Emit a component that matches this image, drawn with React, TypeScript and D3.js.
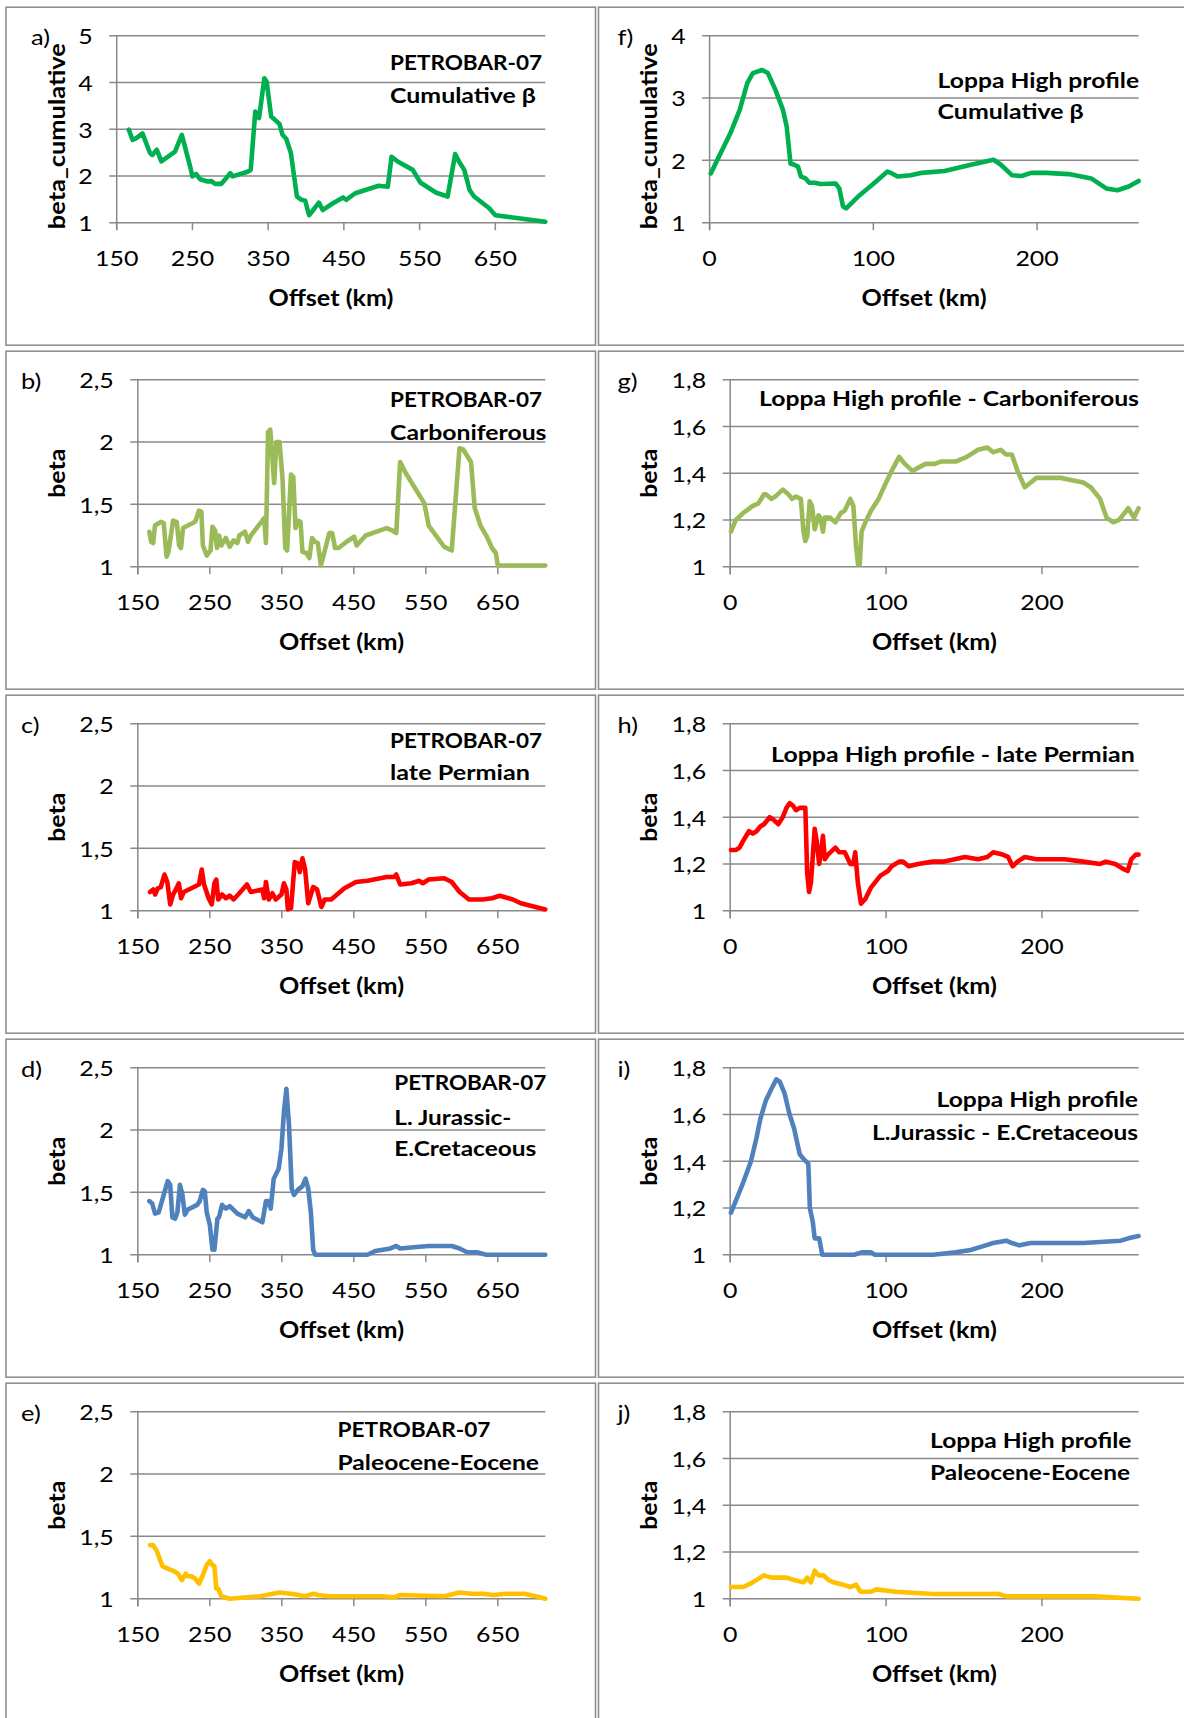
import React from "react";
import * as d3 from "d3";

type Pt = [number, number];

// ---------- tick values ----------
const petrobarXTicks = [150, 250, 350, 450, 550, 650];
const loppaXTicks = [0, 100, 200];
const petrobarXDomain: [number, number] = [150, 716];
const loppaXDomain: [number, number] = [0, 262];
const cumPetrobarYTicks = [1, 2, 3, 4, 5];
const cumLoppaYTicks = [1, 2, 3, 4];
const petrobarYTicks = [1, 1.5, 2, 2.5];
const loppaYTicks = [1, 1.2, 1.4, 1.6, 1.8];

// ---------- series (offset km, beta) ----------
const petrobarCumulative: Pt[] = [
  [166, 2.99], [171, 2.77], [176, 2.81], [184, 2.91], [194, 2.49], [197, 2.45], [203, 2.56], [209, 2.31],
  [227, 2.52], [236, 2.88], [247, 2.2], [250, 1.99], [255, 2.04], [260, 1.93], [270, 1.88], [275, 1.89],
  [280, 1.83], [288, 1.83], [300, 2.06], [303, 1.99], [323, 2.09], [327, 2.13], [333, 3.38], [338, 3.24],
  [345, 4.09], [348, 4.02], [354, 3.27], [359, 3.2], [365, 3.11], [369, 2.88], [374, 2.79], [380, 2.49],
  [388, 1.56], [394, 1.49], [399, 1.47], [404, 1.16], [408, 1.24], [417, 1.43], [422, 1.27], [435, 1.41],
  [449, 1.54], [453, 1.49], [465, 1.63], [496, 1.79], [508, 1.77], [513, 2.41], [521, 2.31], [541, 2.13],
  [551, 1.86], [572, 1.64], [587, 1.56], [597, 2.47], [602, 2.31], [609, 2.13], [616, 1.7], [622, 1.56],
  [642, 1.31], [650, 1.16], [673, 1.11], [716, 1.02],
];

const petrobarCarboniferous: Pt[] = [
  [166, 1.28], [168.6, 1.2], [171.3, 1.19], [173.9, 1.33], [182, 1.36], [186, 1.35], [190, 1.08], [192.6, 1.12],
  [199, 1.37], [204, 1.36], [207.4, 1.17], [210, 1.15], [212.8, 1.31], [229.8, 1.36], [235, 1.45], [238.3, 1.44],
  [240.4, 1.17], [245.7, 1.09], [248.4, 1.11], [251, 1.13], [253.7, 1.32], [257.4, 1.29], [260, 1.15], [262.8, 1.25],
  [266, 1.17], [272.3, 1.23], [277.7, 1.16], [283, 1.21], [288.3, 1.19], [291, 1.25], [299, 1.28], [303, 1.2],
  [307, 1.25], [323, 1.37], [325.5, 1.39], [328, 1.19], [330.9, 2.08], [334, 2.1], [339.4, 1.67], [342.6, 2.0],
  [346.8, 2.0], [351, 1.71], [354.8, 1.15], [357.4, 1.13], [362.8, 1.74], [366, 1.72], [369, 1.31], [372.3, 1.37],
  [376, 1.36], [378.7, 1.12], [384, 1.11], [388.3, 1.07], [392, 1.23], [396, 1.2], [400, 1.19], [404.3, 1.01],
  [408, 1.09], [416, 1.27], [420, 1.27], [424, 1.15], [429, 1.15], [440, 1.2], [450.5, 1.24], [454, 1.17],
  [466.5, 1.25], [495.7, 1.31], [503.7, 1.29], [509, 1.27], [514.4, 1.84], [522.3, 1.75], [543.6, 1.55], [547.9, 1.51],
  [554, 1.33], [575.5, 1.16], [586, 1.13], [596.8, 1.95], [602, 1.94], [612.8, 1.84], [618, 1.47], [626, 1.33],
  [634, 1.25], [642, 1.15], [647.3, 1.11], [650, 1.01], [716, 1.01],
];

const petrobarLatePermian: Pt[] = [
  [167, 1.15], [171.3, 1.17], [174, 1.13], [177.7, 1.18], [182, 1.19], [187, 1.29], [191, 1.23], [195, 1.05],
  [199, 1.13], [203, 1.17], [207, 1.22], [210, 1.1], [213.8, 1.15], [235, 1.21], [238.8, 1.33], [242, 1.21],
  [248.4, 1.1], [252.7, 1.05], [256.4, 1.22], [259, 1.25], [261.7, 1.09], [267, 1.13], [272.3, 1.1], [277.7, 1.12],
  [283, 1.09], [291, 1.14], [301.6, 1.21], [307, 1.15], [323, 1.17], [325.5, 1.1], [328, 1.23], [331.9, 1.09],
  [337, 1.14], [341.5, 1.09], [349.5, 1.13], [353, 1.22], [356.4, 1.17], [358.5, 1.01], [362.8, 1.02], [368, 1.39],
  [372.3, 1.38], [375, 1.31], [378.7, 1.42], [382.4, 1.33], [386.7, 1.06], [393.6, 1.19], [399, 1.17], [405, 1.03],
  [409.6, 1.09], [418.6, 1.09], [437, 1.18], [453, 1.23], [469, 1.24], [495.7, 1.27], [506, 1.27], [509, 1.29],
  [514.4, 1.21], [530, 1.22], [541, 1.24], [546, 1.22], [554, 1.25], [575.5, 1.26], [586, 1.23], [597, 1.15],
  [610, 1.09], [628.7, 1.09], [642, 1.1], [652.7, 1.12], [671, 1.09], [682, 1.06], [716, 1.01],
];

const petrobarJurCret: Pt[] = [
  [166, 1.43], [170, 1.41], [174, 1.33], [179, 1.34], [186, 1.48], [191.5, 1.59], [195, 1.56], [198, 1.3],
  [202, 1.29], [205, 1.34], [208.5, 1.56], [211.7, 1.49], [215.4, 1.32], [219, 1.36], [232.4, 1.4], [236, 1.43],
  [240.4, 1.52], [243, 1.51], [245.7, 1.34], [250, 1.24], [253.7, 1.04], [256.4, 1.04], [260.6, 1.29], [262.8, 1.3],
  [267, 1.4], [272.3, 1.37], [277.7, 1.39], [288.3, 1.33], [299, 1.3], [304, 1.35], [309.6, 1.3], [323, 1.26],
  [328, 1.43], [330.9, 1.43], [334.6, 1.37], [338.8, 1.61], [345.7, 1.69], [349.5, 1.85], [353, 2.15], [356.4, 2.33],
  [360, 2.04], [363.8, 1.53], [367, 1.48], [372.3, 1.52], [378.7, 1.55], [383, 1.61], [386.7, 1.53], [390.4, 1.34],
  [393.6, 1.04], [396.3, 1.0], [469, 1.0], [479.8, 1.03], [501, 1.05], [509, 1.07], [514.4, 1.05], [533, 1.06],
  [554, 1.07], [586, 1.07], [597, 1.05], [607.4, 1.02], [620.7, 1.02], [634, 1.0], [716, 1.0],
];

const petrobarPaleoEo: Pt[] = [
  [167, 1.43], [171.3, 1.43], [176.6, 1.38], [181, 1.31], [184.6, 1.26], [192.6, 1.24], [200.5, 1.22], [205.9, 1.2],
  [211.2, 1.15], [216.5, 1.2], [219, 1.18], [224.5, 1.18], [229.8, 1.16], [235, 1.12], [240.4, 1.19], [245.7, 1.27],
  [250, 1.3], [253.7, 1.27], [256.4, 1.26], [259, 1.08], [261.7, 1.08], [266, 1.02], [277.7, 1.0], [320, 1.02],
  [346.8, 1.05], [362.8, 1.04], [373.4, 1.03], [381.4, 1.02], [394.7, 1.04], [400, 1.03], [416, 1.02], [490.4, 1.02],
  [506.4, 1.01], [514.4, 1.03], [575.5, 1.02], [596.8, 1.05], [612.8, 1.04], [628.7, 1.04], [644.7, 1.03],
  [660.6, 1.04], [687, 1.04], [703, 1.02], [716, 1.0],
];

const loppaCumulative: Pt[] = [
  [0.7, 1.79], [5.7, 2.06], [12.6, 2.43], [18.4, 2.81], [23, 3.24], [26.4, 3.4], [32.1, 3.45], [35.6, 3.4],
  [40.2, 3.13], [44.8, 2.81], [47.1, 2.54], [49.4, 1.95], [51.7, 1.93], [54, 1.9], [55.8, 1.74], [58.6, 1.71],
  [60.9, 1.64], [64.3, 1.64], [67.7, 1.62], [76.9, 1.63], [79.2, 1.55], [81.5, 1.26], [83.4, 1.23], [90.7, 1.42],
  [99.9, 1.62], [108.6, 1.82], [111.4, 1.79], [114.8, 1.74], [122.8, 1.76], [129.7, 1.8], [143.5, 1.83],
  [159.6, 1.93], [173.4, 2.01], [177.9, 1.93], [184.8, 1.76], [190.6, 1.75], [196.3, 1.8], [205.5, 1.8],
  [219.3, 1.78], [233.1, 1.71], [242.2, 1.55], [249.1, 1.52], [256, 1.58], [262, 1.67],
];

const loppaCarboniferous: Pt[] = [
  [0.5, 1.15], [3.6, 1.2], [8.4, 1.23], [14.5, 1.26], [18, 1.27], [21.7, 1.31], [22.9, 1.31], [26.5, 1.29],
  [28.9, 1.3], [33.7, 1.33], [37.3, 1.31], [39.8, 1.29], [42.2, 1.3], [45.3, 1.29], [47, 1.15], [48.2, 1.11],
  [49.4, 1.13], [51, 1.28], [52.5, 1.26], [54.2, 1.16], [56.6, 1.22], [57.8, 1.21], [59.5, 1.15], [60.7, 1.21],
  [63.9, 1.21], [67.5, 1.19], [71, 1.23], [73.5, 1.24], [77, 1.29], [79, 1.26], [80.7, 1.09], [82, 1.01],
  [83.1, 1.01], [84.3, 1.15], [86.7, 1.19], [90.4, 1.24], [95.2, 1.29], [100, 1.36], [103.6, 1.41], [108.4, 1.47],
  [112, 1.44], [116.9, 1.41], [125.3, 1.44], [131.3, 1.44], [135, 1.45], [144.6, 1.45], [151.8, 1.47], [159, 1.5],
  [165, 1.51], [168.7, 1.49], [173.5, 1.5], [177, 1.48], [180.7, 1.48], [184.3, 1.41], [189, 1.34], [192.8, 1.36],
  [196.4, 1.38], [202.4, 1.38], [208.4, 1.38], [212, 1.38], [219.3, 1.37], [226.5, 1.36], [231.3, 1.34],
  [237.3, 1.29], [241.4, 1.21], [245.8, 1.19], [249.4, 1.2], [255.4, 1.25], [259, 1.21], [262, 1.25],
];

const loppaLatePermian: Pt[] = [
  [0.5, 1.26], [3.6, 1.26], [6, 1.27], [8.4, 1.3], [12, 1.34], [14.5, 1.33], [16.9, 1.34], [19.3, 1.36],
  [21.7, 1.37], [25.3, 1.4], [27.7, 1.39], [30.8, 1.37], [33.7, 1.4], [36.1, 1.44], [38.1, 1.46], [40.2, 1.45],
  [42.2, 1.43], [44.6, 1.44], [47, 1.44], [48.2, 1.44], [49.4, 1.16], [50.6, 1.08], [51.8, 1.12], [54.2, 1.35],
  [55.4, 1.3], [57.1, 1.2], [58.6, 1.27], [59.5, 1.32], [60.7, 1.22], [62.7, 1.24], [67.5, 1.27], [69.9, 1.25],
  [73.5, 1.25], [77.1, 1.2], [79, 1.2], [80.2, 1.25], [81.9, 1.12], [83.9, 1.03], [86.7, 1.05], [90.4, 1.1],
  [96.4, 1.15], [101.2, 1.17], [103.6, 1.19], [108.4, 1.21], [110.8, 1.21], [114.5, 1.19], [120.5, 1.2],
  [130, 1.21], [137.3, 1.21], [150.6, 1.23], [159, 1.22], [165, 1.23], [168.7, 1.25], [174.7, 1.24],
  [178.3, 1.23], [181.2, 1.19], [184.3, 1.21], [189, 1.23], [196.4, 1.22], [204.8, 1.22], [214.5, 1.22],
  [226.5, 1.21], [237.3, 1.2], [241, 1.21], [247, 1.2], [251.8, 1.18], [255, 1.17], [257.3, 1.22], [260.2, 1.24],
  [262, 1.24],
];

const loppaJurCret: Pt[] = [
  [0.5, 1.18], [3.6, 1.23], [8.4, 1.31], [13.3, 1.4], [16.9, 1.5], [19.3, 1.58], [22.9, 1.66], [26.5, 1.71],
  [29.6, 1.75], [31.8, 1.74], [34.9, 1.69], [38.1, 1.6], [41, 1.54], [44.6, 1.43], [47, 1.41], [50.1, 1.39],
  [51.1, 1.2], [53, 1.14], [54.2, 1.07], [57.1, 1.07], [59, 1.0], [79.5, 1.0], [84.3, 1.01], [90.4, 1.01],
  [92.8, 1.0], [130, 1.0], [144.6, 1.01], [154.2, 1.02], [163.9, 1.04], [168.7, 1.05], [177.1, 1.06],
  [180.7, 1.05], [185.5, 1.04], [192.8, 1.05], [200, 1.05], [216.9, 1.05], [226.5, 1.05], [250.6, 1.06],
  [255.4, 1.07], [262, 1.08],
];

const loppaPaleoEo: Pt[] = [
  [0.5, 1.05], [3.6, 1.05], [8.4, 1.05], [14.5, 1.07], [21.7, 1.1], [26.5, 1.09], [36.1, 1.09], [41, 1.08],
  [47, 1.07], [49.4, 1.09], [51.8, 1.07], [54.2, 1.12], [56.6, 1.1], [59.8, 1.1], [63.1, 1.08], [66.3, 1.07],
  [72.3, 1.06], [77.1, 1.05], [80.7, 1.06], [83.6, 1.03], [90.4, 1.03], [94, 1.04], [106, 1.03], [130, 1.02],
  [154.2, 1.02], [161.4, 1.02], [166.3, 1.02], [172.3, 1.02], [177.1, 1.01], [202.4, 1.01], [233.7, 1.01],
  [262, 1.0],
];

// ---------- labels ----------
const panelLetters = ["a)", "b)", "c)", "d)", "e)", "f)", "g)", "h)", "i)", "j)"];
const xTitle = "Offset (km)";

const FONT = "Lato, Carlito, 'Open Sans', sans-serif";
const GRID = "#898989";
const FRAME = "#8f8f8f";
const SX = 1.16; // horizontal stretch of the lettering in the source figure

interface Ann { text: string; x: number; y: number; anchor: "start" | "end"; w: number; }
interface PanelCfg {
  letter: string;
  col: 0 | 1;
  row: number;
  plotLeft: number;
  data: Pt[];
  color: string;
  xDomain: [number, number];
  xTicks: number[];
  yDomain: [number, number];
  yTicks: number[];
  yTitle: string;
  yTitleLen: number;
  yTitleDy: number;
  letterX: number;
  anns: Ann[];
}

const ROW_PITCH = 344;
const PLOT_TOP0 = 35.7;
const PLOT_H = 187;
const LEFT_RIGHT = 545.3;
const RIGHT_RIGHT = 1138.6;

const fmt = (v: number) => String(v).replace(".", ",");

const panels: PanelCfg[] = [
  {
    letter: panelLetters[0], col: 0, row: 0, plotLeft: 116.7, data: petrobarCumulative, color: "#00b050",
    xDomain: petrobarXDomain, xTicks: petrobarXTicks, yDomain: [1, 5], yTicks: cumPetrobarYTicks,
    yTitle: "beta_cumulative", yTitleLen: 186, yTitleDy: 7, letterX: 31,
    anns: [
      { text: "PETROBAR-07", x: 390, y: 61.7, anchor: "start", w: 152 },
      { text: "Cumulative β", x: 390, y: 94.3, anchor: "start", w: 146 },
    ],
  },
  {
    letter: panelLetters[1], col: 0, row: 1, plotLeft: 137.8, data: petrobarCarboniferous, color: "#9bbb59",
    xDomain: petrobarXDomain, xTicks: petrobarXTicks, yDomain: [1, 2.5], yTicks: petrobarYTicks,
    yTitle: "beta", yTitleLen: 49, yTitleDy: 0, letterX: 21,
    anns: [
      { text: "PETROBAR-07", x: 390, y: 398.3, anchor: "start", w: 152 },
      { text: "Carboniferous", x: 390, y: 431, anchor: "start", w: 156.5 },
    ],
  },
  {
    letter: panelLetters[2], col: 0, row: 2, plotLeft: 137.8, data: petrobarLatePermian, color: "#ff0000",
    xDomain: petrobarXDomain, xTicks: petrobarXTicks, yDomain: [1, 2.5], yTicks: petrobarYTicks,
    yTitle: "beta", yTitleLen: 49, yTitleDy: 0, letterX: 21,
    anns: [
      { text: "PETROBAR-07", x: 390, y: 739.3, anchor: "start", w: 152 },
      { text: "late Permian", x: 390, y: 771, anchor: "start", w: 140 },
    ],
  },
  {
    letter: panelLetters[3], col: 0, row: 3, plotLeft: 137.8, data: petrobarJurCret, color: "#4f81bd",
    xDomain: petrobarXDomain, xTicks: petrobarXTicks, yDomain: [1, 2.5], yTicks: petrobarYTicks,
    yTitle: "beta", yTitleLen: 49, yTitleDy: 0, letterX: 21,
    anns: [
      { text: "PETROBAR-07", x: 394.3, y: 1081.7, anchor: "start", w: 152 },
      { text: "L. Jurassic-", x: 394.3, y: 1116, anchor: "start", w: 117 },
      { text: "E.Cretaceous", x: 394.3, y: 1147.3, anchor: "start", w: 142 },
    ],
  },
  {
    letter: panelLetters[4], col: 0, row: 4, plotLeft: 137.8, data: petrobarPaleoEo, color: "#ffc000",
    xDomain: petrobarXDomain, xTicks: petrobarXTicks, yDomain: [1, 2.5], yTicks: petrobarYTicks,
    yTitle: "beta", yTitleLen: 49, yTitleDy: 0, letterX: 21,
    anns: [
      { text: "PETROBAR-07", x: 337.5, y: 1428.3, anchor: "start", w: 153 },
      { text: "Paleocene-Eocene", x: 337.5, y: 1461, anchor: "start", w: 201.5 },
    ],
  },
  {
    letter: panelLetters[5], col: 1, row: 0, plotLeft: 709.6, data: loppaCumulative, color: "#00b050",
    xDomain: loppaXDomain, xTicks: loppaXTicks, yDomain: [1, 4], yTicks: cumLoppaYTicks,
    yTitle: "beta_cumulative", yTitleLen: 186, yTitleDy: 7, letterX: 617.5,
    anns: [
      { text: "Loppa High profile", x: 937.6, y: 79, anchor: "start", w: 201.5 },
      { text: "Cumulative β", x: 937.6, y: 110, anchor: "start", w: 146 },
    ],
  },
  {
    letter: panelLetters[6], col: 1, row: 1, plotLeft: 730.2, data: loppaCarboniferous, color: "#9bbb59",
    xDomain: loppaXDomain, xTicks: loppaXTicks, yDomain: [1, 1.8], yTicks: loppaYTicks,
    yTitle: "beta", yTitleLen: 49, yTitleDy: 0, letterX: 617.5,
    anns: [{ text: "Loppa High profile - Carboniferous", x: 1139, y: 397.7, anchor: "end", w: 380 }],
  },
  {
    letter: panelLetters[7], col: 1, row: 2, plotLeft: 730.2, data: loppaLatePermian, color: "#ff0000",
    xDomain: loppaXDomain, xTicks: loppaXTicks, yDomain: [1, 1.8], yTicks: loppaYTicks,
    yTitle: "beta", yTitleLen: 49, yTitleDy: 0, letterX: 617.5,
    anns: [{ text: "Loppa High profile - late Permian", x: 1134.7, y: 753.3, anchor: "end", w: 363.6 }],
  },
  {
    letter: panelLetters[8], col: 1, row: 3, plotLeft: 730.2, data: loppaJurCret, color: "#4f81bd",
    xDomain: loppaXDomain, xTicks: loppaXTicks, yDomain: [1, 1.8], yTicks: loppaYTicks,
    yTitle: "beta", yTitleLen: 49, yTitleDy: 0, letterX: 617.5,
    anns: [
      { text: "Loppa High profile", x: 1138, y: 1098.3, anchor: "end", w: 201.5 },
      { text: "L.Jurassic - E.Cretaceous", x: 1138, y: 1131, anchor: "end", w: 266 },
    ],
  },
  {
    letter: panelLetters[9], col: 1, row: 4, plotLeft: 730.2, data: loppaPaleoEo, color: "#ffc000",
    xDomain: loppaXDomain, xTicks: loppaXTicks, yDomain: [1, 1.8], yTicks: loppaYTicks,
    yTitle: "beta", yTitleLen: 49, yTitleDy: 0, letterX: 617.5,
    anns: [
      { text: "Loppa High profile", x: 930, y: 1439, anchor: "start", w: 201.5 },
      { text: "Paleocene-Eocene", x: 930, y: 1471.7, anchor: "start", w: 200 },
    ],
  },
];

function Label({ x, y, anchor, size, bold, children }: { x: number; y: number; anchor: "start" | "middle" | "end"; size: number; bold?: boolean; children: React.ReactNode }) {
  return (
    <text
      transform={`translate(${x},${y}) scale(${SX},1)`}
      textAnchor={anchor}
      dominantBaseline="central"
      fontSize={size}
      fontWeight={bold ? "bold" : "normal"}
      fontFamily={FONT}
      fill="#000"
    >
      {children}
    </text>
  );
}

function Panel({ p }: { p: PanelCfg }) {
  const top = PLOT_TOP0 + ROW_PITCH * p.row;
  const bottom = top + PLOT_H;
  const right = p.col === 0 ? LEFT_RIGHT : RIGHT_RIGHT;
  const x = d3.scaleLinear().domain(p.xDomain).range([p.plotLeft, right]);
  const y = d3.scaleLinear().domain(p.yDomain).range([bottom, top]);
  const line = d3.line<Pt>().x((d) => x(d[0])).y((d) => y(d[1]));
  const frameX = p.col === 0 ? 6 : 598.5;
  const frameW = p.col === 0 ? 589.5 : 700;
  const frameY = top - 28.5;
  const yTitleX = p.col === 0 ? 56.5 : 648;
  return (
    <g>
      <rect x={frameX} y={frameY} width={frameW} height={338} fill="#fff" stroke={FRAME} strokeWidth={1.6} />
      {p.yTicks.map((t) => (
        <line key={"g" + t} x1={p.plotLeft - 7.5} x2={right} y1={y(t)} y2={y(t)} stroke={GRID} strokeWidth={1.5} />
      ))}
      <line x1={p.plotLeft} x2={p.plotLeft} y1={top} y2={bottom + 7.5} stroke={GRID} strokeWidth={1.5} />
      {p.xTicks.map((t) => (
        <line key={"t" + t} x1={x(t)} x2={x(t)} y1={bottom} y2={bottom + 7.5} stroke={GRID} strokeWidth={1.5} />
      ))}
      <path d={line(p.data) || ""} fill="none" stroke={p.color} strokeWidth={4.6} strokeLinejoin="round" strokeLinecap="round" />
      {p.yTicks.map((t) => (
        <Label key={"yl" + t} x={p.plotLeft - 24} y={y(t)} anchor="end" size={21.5}>{fmt(t)}</Label>
      ))}
      {p.xTicks.map((t) => (
        <Label key={"xl" + t} x={x(t)} y={bottom + 34.5} anchor="middle" size={21.5}>{fmt(t)}</Label>
      ))}
      <text
        x={(p.plotLeft + right) / 2} y={bottom + 75}
        textAnchor="middle" dominantBaseline="central" fontSize={22} fontWeight="bold" fontFamily={FONT} fill="#000"
        textLength={125} lengthAdjust="spacingAndGlyphs"
      >
        {xTitle}
      </text>
      <text
        transform={`translate(${yTitleX},${(top + bottom) / 2 + p.yTitleDy}) rotate(-90)`}
        textAnchor="middle" dominantBaseline="central" fontSize={22} fontWeight="bold" fontFamily={FONT} fill="#000"
        textLength={p.yTitleLen} lengthAdjust="spacingAndGlyphs"
      >
        {p.yTitle}
      </text>
      <Label x={p.letterX} y={top + 0.5} anchor="start" size={22}>{p.letter}</Label>
      {p.anns.map((a, i) => (
        <text
          key={"a" + i} x={a.x} y={a.y} textAnchor={a.anchor} dominantBaseline="central"
          fontSize={21} fontWeight="bold" fontFamily={FONT} fill="#000"
          textLength={a.w} lengthAdjust="spacingAndGlyphs"
        >
          {a.text}
        </text>
      ))}
    </g>
  );
}

export default function App() {
  return (
    <div style={{ position: "absolute", left: 0, top: 0, width: 1184, height: 1718, overflow: "hidden", background: "#fff" }}>
      <svg width={1184} height={1718} viewBox="0 0 1184 1718" style={{ display: "block" }}>
        <rect x={0} y={0} width={1184} height={1718} fill="#fff" />
        {panels.map((p) => (
          <Panel key={p.letter} p={p} />
        ))}
      </svg>
    </div>
  );
}
